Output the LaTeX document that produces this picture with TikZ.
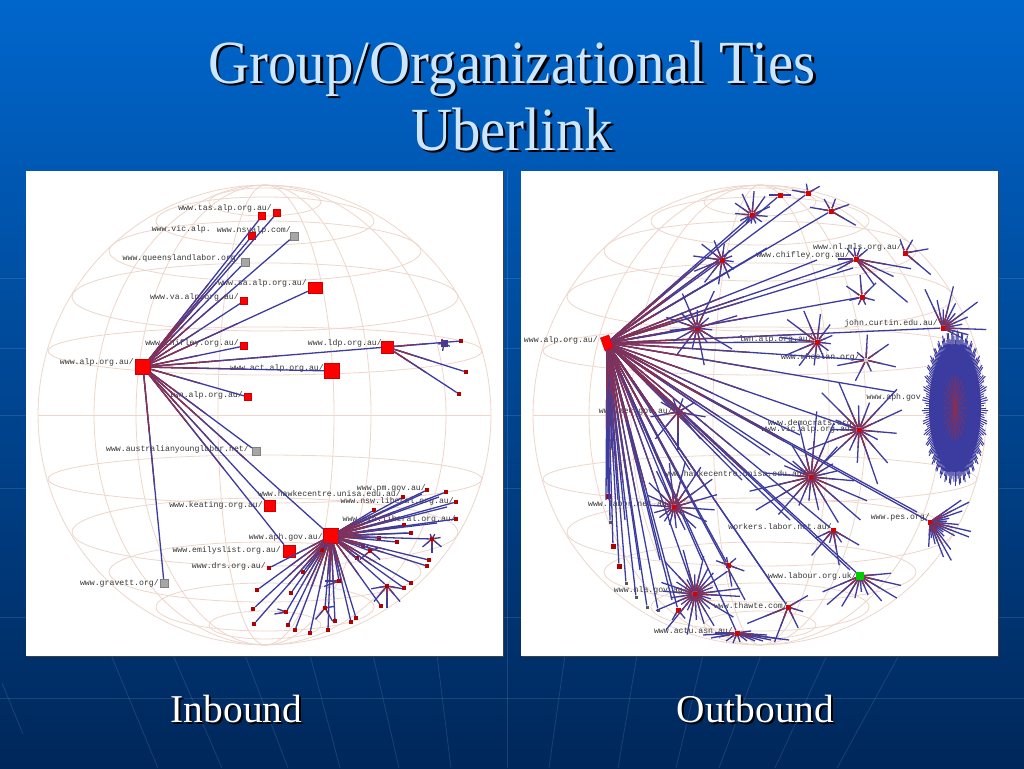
\documentclass[tikz,border=0pt]{standalone}
\usepackage{fontspec}
\setmainfont{Liberation Serif}
\newfontfamily\sitefont{Liberation Mono}
\usetikzlibrary{calc,shapes.geometric}

\definecolor{skytop}{HTML}{0066CC}
\definecolor{skymid}{HTML}{0050A4}
\definecolor{skylow}{HTML}{00275A}
\definecolor{globeline}{HTML}{EED6CA}
\definecolor{linkblue}{HTML}{3C3CA0}
\definecolor{linkmid}{HTML}{5A3A80}
\definecolor{linkred}{HTML}{8A3050}
\definecolor{titleblue}{HTML}{CDE6FF}
\definecolor{sitegray}{HTML}{383838}

\tikzset{
	gridstroke/.style={white, opacity=.11, line width=.8pt},
	latstroke/.style={globeline, line width=.8pt},
	site/.style={anchor=east, inner sep=0pt, text=sitegray, font=\sitefont\fontsize{8.2}{9}\selectfont},
	hub/.style={rectangle, fill=red, draw=red!80!black, line width=.4pt, inner sep=0pt, minimum size=#1},
	hub/.default=8pt,
	leaf/.style={rectangle, fill=red!70!black, inner sep=0pt, minimum size=#1},
	leaf/.default=4pt,
	mute/.style={rectangle, fill=gray!70, draw=gray, line width=.4pt, inner sep=0pt, minimum size=#1},
	mute/.default=8pt,
	dot/.style={rectangle, fill=black!65, inner sep=0pt, minimum size=3pt},
	linkb/.style={linkblue, line width=1.3pt},
	linkm/.style={linkmid, line width=1.3pt},
	linkr/.style={linkred, line width=1.3pt},
	globe/.pic={
		\foreach \dy/\rx/\ry in {-213/56/14, -194/109/24, -164/156/30, -118/193/34, -64/217/24,
			64/217/24, 117/193/34, 157/156/30, 192/109/24, 210/56/14}
			\draw[latstroke] (0,\dy) ellipse [x radius=\rx, y radius=\ry];
		\draw[latstroke] (-227,0) -- (226,0);
		\foreach \dx in {-227,-171,-129,-47,69,106,181,226}
			\draw[latstroke] plot[domain=-90:90, samples=30, smooth] ({\dx*cos(\x)},{230*sin(\x)});
	}
}

% text with a hard drop shadow
\newcommand{\shadowed}[3]{\rlap{\raisebox{-#2}{\kern#2\color{#1}#3}}#3}
% one connector, red at the source and blue at the far end
\newcommand{\lnk}[2]{%
	\draw[linkb] (#1) -- (#2);
	\draw[linkm] (#1) -- ($(#1)!.55!(#2)$);
	\draw[linkr] (#1) -- ($(#1)!.3!(#2)$);
}
% a fan of short connectors: hub, first angle, second angle, last angle, length
\newcommand{\spokes}[5]{%
	\foreach \ang in {#2,#3,...,#4} {
		\pgfmathsetmacro{\splen}{#5*(.68+.32*sin(\ang*37))}
		\coordinate (tip) at ($(#1)+(\ang:\splen)$);
		\lnk{#1}{tip}
	}
}

\begin{document}
\begin{tikzpicture}[x=1pt, y=-1pt]
	\useasboundingbox (0,0) rectangle (1024,768);
	\shade[top color=skytop, middle color=skymid, bottom color=skylow] (0,0) rectangle (1024,768);

	% faint grid of the slide
	\foreach \yy in {278,348,415,488,617,698}
		\draw[gridstroke] (0,\yy) -- (1024,\yy);
	\draw[gridstroke] (507,170) -- (507,768);
	\foreach \xa/\xb in {111/158, 173/222, 245/288, 310/340, 373/399, 437/451,
		565/549, 637/618, 703/676, 761/719, 827/775, 899/837}
		\draw[gridstroke] (\xa,655) -- (\xb,768);
	\draw[gridstroke] (2,683) -- (23,734);

	% the two panels
	\fill[black!75] (27,172) rectangle (504,657);
	\fill[black!75] (522,172) rectangle (999,657);
	\fill[white] (26,171) rectangle (503,656);
	\fill[white] (521,171) rectangle (998,656);
	\pic at (265,415) {globe};
	\pic at (760,415) {globe};

	% headings
	\node[anchor=base, text=titleblue, font=\fontsize{56.8}{60}\selectfont] (titlea) at (512,83)
		{\scalebox{1}[1.08]{\shadowed{black}{2.5pt}{Group/Organizational Ties}}};
	\node[anchor=base, text=titleblue, font=\fontsize{56.8}{60}\selectfont] (titleb) at (512,150)
		{\scalebox{1}[1.08]{\shadowed{black}{2.5pt}{Uberlink}}};
	\node[anchor=base, text=white, font=\fontsize{39.4}{42}\selectfont] (inbound) at (236.5,722)
		{\shadowed{black}{2pt}{Inbound}};
	\node[anchor=base, text=white, font=\fontsize{39.4}{42}\selectfont] (outbound) at (755.5,722)
		{\shadowed{black}{2pt}{Outbound}};

	% --- Inbound ---
	\foreach \n/\x/\y/\t in {
		la/134/362/{www.alp.org.au/}, lb/272/208/{www.tas.alp.org.au/}, lc/211/229/{www.vic.alp.},
		ld/291/230/{www.nsvalp.com/}, le/241/258/{www.queenslandlabor.org/}, lf/307/283/{www.sa.alp.org.au/},
		lg/239/297/{www.va.alp.org.au/}, lh/239/343/{www.chifley.org.au/}, li/324/368/{www.act.alp.org.au/},
		lj/382/343/{www.ldp.org.au/}, lk/243/395/{lwn.alp.org.au/}, ll/249/449/{www.australianyounglabor.net/},
		lm/263/505/{www.keating.org.au/}, ln/281/550/{www.emilyslist.org.au/}, lo/266/566/{www.drs.org.au/},
		lp/159/583/{www.gravett.org/}, lq/323/537/{www.aph.gov.au/}, lr/401/494/{www.hawkecentre.unisa.edu.au/},
		ls/426/488/{www.pm.gov.au/}, lt/454/501/{www.nsw.liberal.org.au/}, lu/456/519/{www.vic.liberal.org.au/}}
		\node[site] (\n) at (\x,\y) {\t};

	\node[hub=15pt] (alpin) at (143,367) {};
	\node[hub=14pt, minimum height=11pt] (sain) at (315,288) {};
	\node[hub=15pt] (actin) at (332,371) {};
	\node[hub=12pt] (ldpin) at (387,347) {};
	\node[hub=11pt] (keatin) at (270,506) {};
	\node[hub=12pt] (emilin) at (289,551) {};
	\node[hub=15pt] (aphin) at (331,536) {};
	\foreach \n/\x/\y in {tasin/262/216, tasbin/277/213, vain/244/301, chifin/244/346, lwnin/248/397, vicin/252/236}
		\node[hub=7pt] (\n) at (\x,\y) {};
	\foreach \n/\x/\y in {nswin/294/236, qldin/245/262, youngin/256/451, gravin/164/583}
		\node[mute=8pt] (\n) at (\x,\y) {};
	\foreach \n in {tasin,tasbin,vicin,nswin,qldin,sain,vain,chifin,actin,ldpin,lwnin,youngin,keatin,emilin,aphin,gravin} {
		\lnk{alpin}{\n}
	}

	% leaves of the ldp node
	\foreach \n/\x/\y in {ldpa/461/341, ldpb/466/372, ldpc/459/394} {
		\node[leaf] (\n) at (\x,\y) {};
		\lnk{ldpin}{\n}
	}
	\node[rectangle, fill=linkblue, minimum size=7pt, inner sep=0pt] (ldpd) at (444,343) {};
	\spokes{ldpd}{30}{100}{240}{8}

	% spray out of aph.gov.au
	\foreach \n/\x/\y in {ap1/374/510, ap2/403/497, ap3/427/490, ap4/446/492, ap5/456/502, ap6/456/519,
		ap7/404/525, ap8/411/533, ap9/379/538, ap10/397/542, ap11/432/539, ap12/363/546, ap13/370/551,
		ap14/429/560, ap15/427/566, ap16/357/558, ap17/411/583, ap18/404/588, ap19/387/586, ap20/381/606,
		ap21/356/618, ap22/351/622, ap23/339/581, ap24/335/621, ap25/328/630, ap26/325/608, ap27/310/633,
		ap28/295/630, ap29/288/625, ap30/286/612, ap31/291/593, ap32/303/572, ap33/322/550, ap34/257/590,
		ap35/253/609, ap36/254/624, ap37/269/568} {
		\node[leaf] (\n) at (\x,\y) {};
		\lnk{aphin}{\n}
	}
	\foreach \n/\x/\y in {ax1/422/494, ax2/439/497, ax3/447/507, ax4/437/523, ax5/407/533} {
		\coordinate (\n) at (\x,\y);
		\lnk{aphin}{\n}
	}
	\spokes{ap11}{-110}{-60}{170}{14}
	\spokes{ap13}{-20}{-120}{-340}{15}
	\spokes{ap19}{10}{50}{190}{22}
	\spokes{ap26}{-10}{60}{170}{16}
	\spokes{ap23}{160}{180}{190}{20}
	\spokes{ap30}{170}{200}{200}{16}

	% --- Outbound ---
	\foreach \n/\x/\y/\t in {
		ma/598/340/{www.alp.org.au/}, mb/813/339/{lwn.alp.org.au/}, mc/850/255/{www.chifley.org.au/},
		md/902/247/{www.nl.mls.org.au/}, me/938/323/{john.curtin.edu.au/}, mf/860/357/{www.wheelan.org/},
		mg/921/397/{www.aph.gov}, mh/857/423/{www.democrats.org/}, mi/855/429/{www.vic.alp.org.au/},
		mj/673/411/{www.aec.gov.au/}, mk/807/474/{www.hawkecentre.unisa.edu.au/}, ml/832/527/{workers.labor.net.au/},
		mm/930/517/{www.pes.org/}, mn/857/576/{www.labour.org.uk/}, mo/788/606/{www.thawte.com/},
		mp/672/504/{www.labor.net.au/}, mq/688/590/{www.nla.gov.au/}, mr/733/631/{www.actu.asn.au/}}
		\node[site] (\n) at (\x,\y) {\t};

	\node[hub=9pt, minimum height=14pt, rotate=20] (alpout) at (607,343) {};
	\foreach \n/\x/\y in {
		topa/752/215, topb/722/260, topc/780/195, topd/808/193, tope/831/211, chifout/856/259, nlout/905/253,
		jout/862/297, cout/697/328, lwnout/817/342, curtout/943/328, aecout/678/412, vicout/859/430,
		hawkout/811/477, workout/833/530, labout/674/507, smalla/728/565, nlaout/695/594, smallb/678/610,
		actuout/737/633, thawout/788/607, pesout/930/522}
		\node[rectangle, fill=red!85!black, inner sep=0pt, minimum size=5pt] (\n) at (\x,\y) {};
	\node[rectangle, fill=gray!40, inner sep=0pt, minimum size=4pt] (wheelout) at (866,360) {};
	\node[rectangle, fill=green!80!black, inner sep=0pt, minimum size=8pt] (ukout) at (860,576) {};
	\node[ellipse, fill=linkblue, inner sep=0pt, minimum width=52pt, minimum height=128pt] (ballout) at (955,408) {};

	\foreach \n/\x/\y in {lea/608/470, leb/608/496, lec/613/546, led/619/566}
		\node[leaf=5pt] (\n) at (\x,\y) {};
	\foreach \n/\x/\y in {lef/610/522, leg/626/583, leh/636/597, lei/647/607, lej/658/610}
		\node[dot] (\n) at (\x,\y) {};
	\foreach \n/\x/\y in {ena/767/248, enb/817/260, enc/853/268, end/895/392, ene/917/512, enf/850/570,
		eng/783/600, enh/742/480, eni/790/520, enj/702/560, enk/745/600, enl/640/470, enm/655/450,
		enn/618/500, eno/625/520, enp/640/570, enq/660/560, enr/672/600, ens/690/470, ent/770/455, enu/800/435,
		bara/606/500, barb/609/500, barc/612/450}
		\coordinate (\n) at (\x,\y);

	\foreach \n in {topa,topb,topc,topd,tope,chifout,ena,enb,enc,jout,cout,lwnout,curtout,wheelout,end,vicout,
		hawkout,ene,enf,aecout,labout,smalla,thawout,eng,nlaout,actuout,smallb,workout,lea,leb,lec,led,lef,leg,
		leh,lei,lej,enh,eni,enj,enk,enl,enm,enn,eno,enp,enq,enr,ens,ent,enu,pesout,ukout,bara,barb,barc} {
		\lnk{alpout}{\n}
	}

	\spokes{topa}{5}{35}{335}{24}
	\spokes{topb}{8}{38}{338}{30}
	\spokes{cout}{7}{31}{343}{42}
	\spokes{aecout}{10}{50}{330}{38}
	\spokes{topc}{0}{180}{180}{16}
	\spokes{topd}{-170}{-100}{20}{26}
	\spokes{tope}{-170}{-120}{60}{34}
	\spokes{chifout}{10}{25}{60}{76}
	\spokes{chifout}{-130}{-100}{-40}{32}
	\spokes{chifout}{150}{180}{190}{26}
	\spokes{nlout}{-110}{-60}{40}{38}
	\spokes{jout}{15}{65}{325}{22}
	\spokes{lwnout}{7}{37}{337}{38}
	\spokes{curtout}{-115}{-102}{35}{44}
	\spokes{wheelout}{13}{65}{325}{32}
	\spokes{vicout}{5}{27}{335}{58}
	\spokes{hawkout}{5}{23}{347}{66}
	\spokes{workout}{30}{55}{160}{36}
	\spokes{pesout}{-35}{-27}{95}{44}
	\spokes{ukout}{-5}{13}{170}{44}
	\spokes{thawout}{-30}{17}{200}{44}
	\spokes{labout}{4}{24}{344}{48}
	\spokes{smalla}{-160}{-100}{110}{22}
	\spokes{nlaout}{3}{17}{353}{46}
	\spokes{smallb}{120}{50}{280}{12}

	% flat fan of actu.asn.au at the rim
	\foreach \dx/\dy in {-34/2,-26/5,-18/4,-11/8,-4/10,3/9,10/8,18/8,26/8,34/7,44/6,52/7,-22/0,14/-2,30/2} {
		\coordinate (tip) at ($(actuout)+(\dx,\dy)$);
		\lnk{actuout}{tip}
	}

	% the dense ball
	\foreach \ang in {0,2,...,358} {
		\pgfmathsetmacro{\splen}{1+.07*sin(\ang*41)}
		\coordinate (tip) at ($(ballout.center)+({31*\splen*cos(\ang)},{73*\splen*sin(\ang)})$);
		\draw[linkb, line width=1pt] (ballout.center) -- (tip);
	}
	\foreach \ang in {0,15,...,345} {
		\coordinate (tip) at ($(ballout.center)+({12*cos(\ang)},{32*sin(\ang)})$);
		\draw[linkr, line width=1.4pt, opacity=.55] (ballout.center) -- (tip);
	}
\end{tikzpicture}
\end{document}
